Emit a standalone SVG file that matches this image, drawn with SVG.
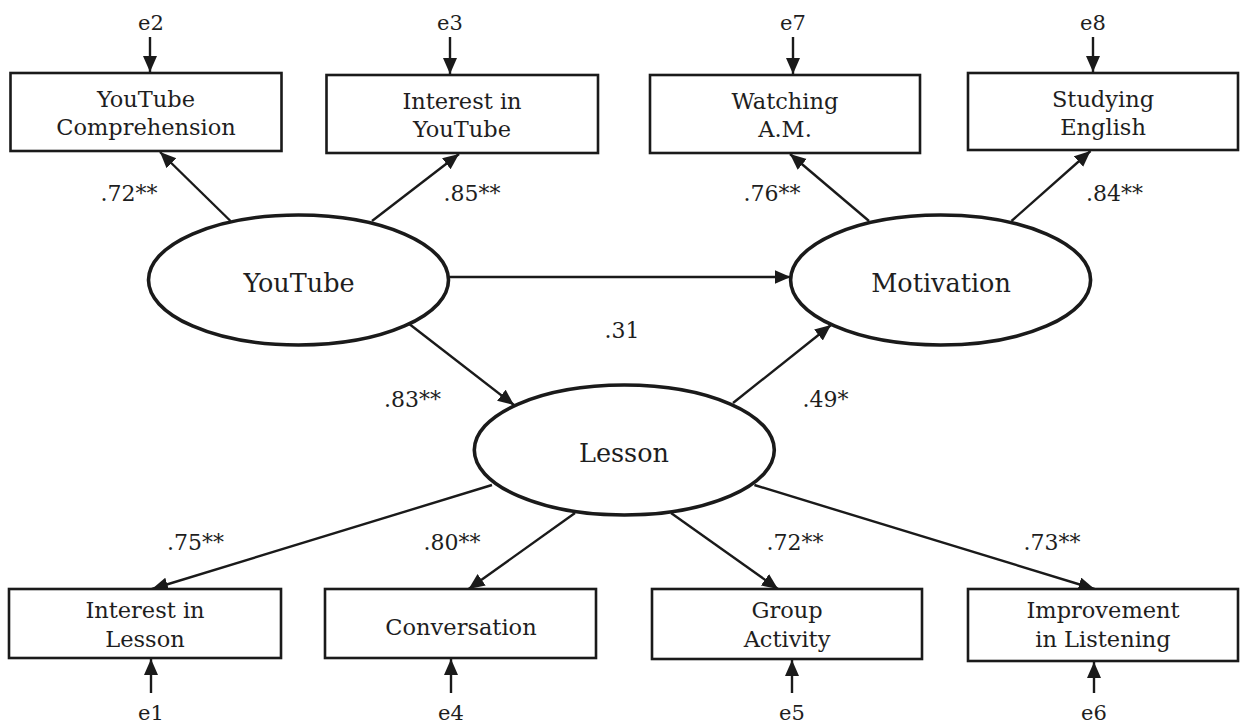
<svg xmlns="http://www.w3.org/2000/svg" width="1240" height="725" viewBox="0 0 1240 725">
<defs>
<marker id="ah" markerUnits="userSpaceOnUse" markerWidth="17" markerHeight="15" refX="16" refY="7" orient="auto">
<path d="M0,0 L16,7 L0,14 z" fill="#1a1a1a"/>
</marker>
<style>
.box{fill:#fff;stroke:#1a1a1a;stroke-width:2.6}
.ell{fill:#fff;stroke:#1a1a1a;stroke-width:3.6}
.t{font-family:"DejaVu Serif","Liberation Serif",serif;font-size:22.5px;fill:#1e1e1e;text-anchor:middle}
.lt{font-family:"DejaVu Serif","Liberation Serif",serif;font-size:25.5px;fill:#1e1e1e;text-anchor:middle}
.c{font-family:"DejaVu Serif","Liberation Serif",serif;font-size:22px;fill:#1e1e1e;text-anchor:middle}
.e{font-family:"DejaVu Serif","Liberation Serif",serif;font-size:21px;fill:#1e1e1e;text-anchor:middle}
.ln{stroke:#1a1a1a;stroke-width:2.4;fill:none;marker-end:url(#ah)}
</style>
</defs>
<rect width="1240" height="725" fill="#fff"/>

<g id="connectors">
<line class="ln" x1="150" y1="37" x2="150" y2="72"/>
<line class="ln" x1="450" y1="37" x2="450" y2="74"/>
<line class="ln" x1="793" y1="37" x2="793" y2="74"/>
<line class="ln" x1="1093" y1="37" x2="1093" y2="72"/>
<line class="ln" x1="151" y1="693" x2="151" y2="659"/>
<line class="ln" x1="451" y1="693" x2="451" y2="659"/>
<line class="ln" x1="792" y1="693" x2="792" y2="660"/>
<line class="ln" x1="1094" y1="693" x2="1094" y2="662"/>
<line class="ln" x1="230.5" y1="221" x2="160" y2="152"/>
<line class="ln" x1="372" y1="221" x2="459" y2="154"/>
<line class="ln" x1="448.5" y1="277" x2="790.5" y2="277"/>
<line class="ln" x1="408" y1="323" x2="514" y2="405"/>
<line class="ln" x1="733" y1="403" x2="831" y2="325"/>
<line class="ln" x1="869" y1="221" x2="790" y2="154"/>
<line class="ln" x1="1011.5" y1="221" x2="1090.5" y2="151"/>
<line class="ln" x1="492" y1="485" x2="152" y2="589"/>
<line class="ln" x1="575" y1="513" x2="468.6" y2="589"/>
<line class="ln" x1="671" y1="513" x2="778" y2="589"/>
<line class="ln" x1="754.4" y1="485" x2="1094.5" y2="589"/>
</g>

<g id="coefficients">
<text class="c" x="129" y="201">.72**</text>
<text class="c" x="472" y="201">.85**</text>
<text class="c" x="772" y="201">.76**</text>
<text class="c" x="1114.5" y="201">.84**</text>
<text class="c" x="622" y="338">.31</text>
<text class="c" x="412.5" y="407">.83**</text>
<text class="c" x="825.5" y="407">.49*</text>
<text class="c" x="195.5" y="550">.75**</text>
<text class="c" x="452" y="550">.80**</text>
<text class="c" x="795" y="550">.72**</text>
<text class="c" x="1052" y="550">.73**</text>
</g>

<g id="errors">
<text class="e" x="151" y="30">e2</text>
<text class="e" x="450" y="30">e3</text>
<text class="e" x="793" y="30">e7</text>
<text class="e" x="1093" y="30">e8</text>
<text class="e" x="151" y="720">e1</text>
<text class="e" x="451" y="720">e4</text>
<text class="e" x="792" y="720">e5</text>
<text class="e" x="1094" y="720">e6</text>
</g>

<g id="youtube-comprehension">
<rect class="box" x="10.5" y="73" width="271" height="78"/>
<text class="t" x="146" y="107">YouTube</text>
<text class="t" x="146" y="135">Comprehension</text>
</g>
<g id="interest-in-youtube">
<rect class="box" x="326.5" y="75" width="271.5" height="78"/>
<text class="t" x="462" y="109">Interest in</text>
<text class="t" x="462" y="137">YouTube</text>
</g>
<g id="watching-am">
<rect class="box" x="650" y="75" width="270" height="78"/>
<text class="t" x="785" y="109">Watching</text>
<text class="t" x="785" y="137">A.M.</text>
</g>
<g id="studying-english">
<rect class="box" x="968" y="73" width="270" height="77"/>
<text class="t" x="1103" y="107">Studying</text>
<text class="t" x="1103" y="135">English</text>
</g>

<g id="youtube">
<ellipse class="ell" cx="298.5" cy="280" rx="150" ry="65"/>
<text class="lt" x="299" y="292">YouTube</text>
</g>
<g id="motivation">
<ellipse class="ell" cx="940.6" cy="280" rx="150" ry="65"/>
<text class="lt" x="941" y="292">Motivation</text>
</g>
<g id="lesson">
<ellipse class="ell" cx="624.3" cy="450" rx="150" ry="65"/>
<text class="lt" x="624" y="462">Lesson</text>
</g>

<g id="interest-in-lesson">
<rect class="box" x="9" y="589" width="272" height="69"/>
<text class="t" x="145" y="618">Interest in</text>
<text class="t" x="145" y="647">Lesson</text>
</g>
<g id="conversation">
<rect class="box" x="325" y="589" width="271" height="69"/>
<text class="t" x="461" y="635">Conversation</text>
</g>
<g id="group-activity">
<rect class="box" x="652" y="589" width="270" height="70"/>
<text class="t" x="787" y="618">Group</text>
<text class="t" x="787" y="647">Activity</text>
</g>
<g id="improvement-in-listening">
<rect class="box" x="968" y="589" width="270" height="72"/>
<text class="t" x="1103" y="618">Improvement</text>
<text class="t" x="1103" y="647">in Listening</text>
</g>
</svg>
